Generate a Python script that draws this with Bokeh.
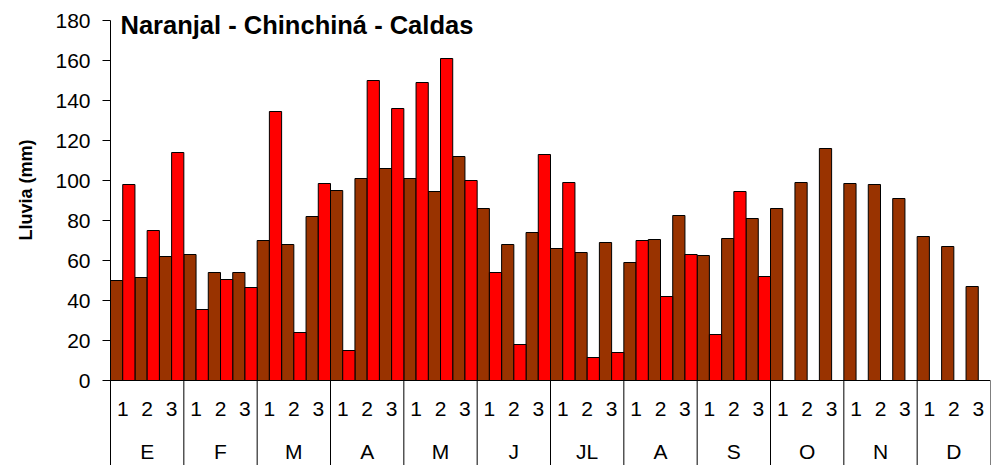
from bokeh.plotting import figure
from bokeh.models import FactorRange, Range1d, FixedTicker, Label, ColumnDataSource, Title
from bokeh.transform import dodge
from bokeh.core.properties import value
from bokeh.embed import file_html
from bokeh.resources import INLINE

# ---------------- data ----------------
months = ["E", "F", "M", "A", "M", "J", "JL", "A", "S", "O", "N", "D"]
decades = ["1", "2", "3"]

# brown bars (historic)
historic = [50, 51.5, 62,
            63, 54, 54,
            70, 68, 82,
            95, 101, 106,
            101, 94.5, 112,
            86, 68, 74,
            66, 64, 69,
            59, 70.5, 82.5,
            62.5, 71, 81,
            86, 99, 116,
            98.5, 98, 91,
            72, 67, 47]

# red bars (current year, Jan-Sep)
current = [98, 75, 114,
           35.5, 50.5, 46.5,
           134.5, 24, 98.5,
           15, 150, 136,
           149, 161, 100,
           54, 18, 113,
           99, 11.5, 14,
           70, 42, 63,
           23, 94.5, 52]

y_ticks = [0, 20, 40, 60, 80, 100, 120, 140, 160, 180]
title_text = "Naranjal - Chinchiná - Caldas"
y_label_text = "Lluvia (mm)"

# ---------------- styles ----------------
FONT = "Liberation Sans"
BROWN = "#993300"
RED = "#FF0000"
Y_BOTTOM = -42.5        # room below zero for the two label rows
Y_TOP = 190             # room above the 180 tick for the title
MONTH_LABEL_Y = -35.4

month_keys = [f"{i + 1:02d}" for i in range(len(months))]
factors = [(k, d) for k in month_keys for d in decades]

x_range = FactorRange(*factors, factor_padding=0, group_padding=0,
                      subgroup_padding=0, range_padding=0)
y_range = Range1d(Y_BOTTOM, Y_TOP)

p = figure(x_range=x_range, y_range=y_range, width=992, height=465,
           output_backend="svg", toolbar_location=None,
           min_border_left=110, min_border_right=2,
           min_border_top=0, min_border_bottom=0)
p.outline_line_color = None
p.xgrid.visible = False
p.ygrid.visible = False
p.background_fill_color = "white"
p.border_fill_color = "white"

src_h = ColumnDataSource(dict(x=factors, top=historic))
src_c = ColumnDataSource(dict(x=factors[:len(current)], top=current))

p.vbar(x=dodge("x", -0.25, range=p.x_range), top="top", width=0.5, source=src_h,
       fill_color=BROWN, line_color="black", line_width=1)
p.vbar(x=dodge("x", 0.25, range=p.x_range), top="top", width=0.5, source=src_c,
       fill_color=RED, line_color="black", line_width=1)

# month separators (numeric synthetic coordinates of the factor range)
n_dec = len(decades)
bounds = [n_dec * (i + 1) for i in range(len(months))]
p.segment(x0=bounds, y0=[0] * len(bounds), x1=bounds, y1=[Y_BOTTOM] * len(bounds),
          line_color="black", line_width=1)

# month labels
src_m = ColumnDataSource(dict(x=month_keys, text=months))
p.text(x="x", y=MONTH_LABEL_Y, text="text", source=src_m,
       text_font=value(FONT), text_font_size="21px", text_color="black",
       text_align="center", text_baseline="middle")

# x axis (decades) at y = 0
xa = p.xaxis[0]
xa.fixed_location = 0
xa.axis_line_color = "black"
xa.axis_line_width = 1
xa.major_tick_line_color = None
xa.major_tick_out = 0
xa.major_tick_in = 0
xa.minor_tick_line_color = None
xa.major_label_standoff = 21
xa.major_label_text_font = FONT
xa.major_label_text_font_size = "21px"
xa.major_label_text_color = "black"
xa.group_text_color = None
xa.separator_line_color = None

# y axis
ya = p.yaxis[0]
ya.ticker = FixedTicker(ticks=y_ticks)
ya.bounds = (Y_BOTTOM, y_ticks[-1])
ya.axis_line_color = "black"
ya.major_tick_line_color = "black"
ya.major_tick_out = 8
ya.major_tick_in = 0
ya.minor_tick_line_color = None
ya.major_label_standoff = 12
ya.major_label_text_font = FONT
ya.major_label_text_font_size = "21px"
ya.major_label_text_color = "black"

# y axis title (as a side title so it can sit beside the 0-180 scale)
p.add_layout(Title(text=y_label_text, align="left", offset=225, vertical_align="top",
                   standoff=30, text_font=FONT, text_font_size="18px",
                   text_font_style="bold", text_color="black"), "left")

# chart title inside plot
p.add_layout(Label(x=0, y=y_ticks[-1], x_offset=10, y_offset=-4.5,
                   text=title_text, text_font=FONT, text_font_size="25.5px",
                   text_font_style="bold", text_color="black",
                   text_align="left", text_baseline="alphabetic"))

open("out.html", "w").write(file_html(p, INLINE))
